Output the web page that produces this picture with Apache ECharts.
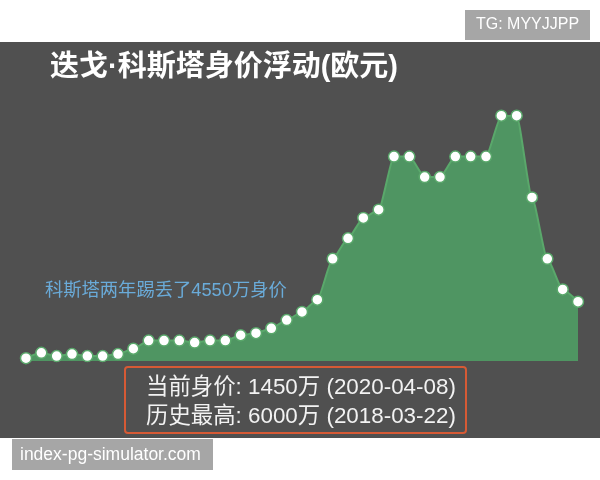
<!DOCTYPE html>
<html><head><meta charset="utf-8">
<script src="https://cdn.jsdelivr.net/npm/echarts@6/dist/echarts.min.js"></script>
<style>html,body{margin:0;padding:0;background:#fff}#c{width:600px;height:480px}</style>
</head><body><div id="c"></div>
<script>
var categories = ['1','2','3','4','5','6','7','8','9','10','11','12','13','14','15','16','17','18','19','20','21','22','23','24','25','26','27','28','29','30','31','32','33','34','35','36','37'];
var values = [70, 200, 120, 170, 120, 120, 170, 300, 500, 500, 500, 450, 500, 500, 630, 680, 800, 1000, 1200, 1500, 2500, 3000, 3500, 3700, 5000, 5000, 4500, 4500, 5000, 5000, 5000, 6000, 6000, 4000, 2500, 1750, 1450];
var titleText = '迭戈·科斯塔身价浮动(欧元)';
var noteText = '科斯塔两年踢丢了4550万身价';
var infoLines = ['当前身价: 1450万 (2020-04-08)', '历史最高: 6000万 (2018-03-22)'];
var tagText = 'TG: MYYJJPP';
var siteText = 'index-pg-simulator.com';

var chart = echarts.init(document.getElementById('c'));
var font = 'Arial, "Liberation Sans", "Noto Sans CJK SC", sans-serif';
chart.setOption({
  backgroundColor: '#ffffff',
  animation: false,
  title: {
    text: titleText, left: 45, top: 48,
    textStyle: {color: '#ffffff', fontSize: 29, fontWeight: 'bold', fontFamily: font}
  },
  grid: {left: 26, right: 22, top: 115.7, bottom: 119},
  xAxis: {type: 'category', data: categories, boundaryGap: false, show: false},
  yAxis: {type: 'value', min: 0, max: 6000, show: false},
  series: [{
    type: 'line', data: values, smooth: 0.2, smoothMonotone: 'x',
    showSymbol: true, showAllSymbol: true,
    symbol: 'circle', symbolSize: 11,
    itemStyle: {color: '#ffffff', borderColor: '#5aa86b', borderWidth: 1.5},
    lineStyle: {color: '#5aa86b', width: 2},
    areaStyle: {color: '#4f9562', opacity: 1},
    z: 5
  }],
  graphic: [
    {type: 'rect', z: -10, shape: {x: 0, y: 42, width: 600, height: 396}, style: {fill: '#505050'}},
    {type: 'rect', z: 10, shape: {x: 465, y: 10, width: 125, height: 30}, style: {fill: '#a6a6a6'}},
    {type: 'text', z: 11, x: 527.5, y: 25, style: {text: tagText, fill: '#ffffff', font: '16px ' + font, textAlign: 'center', textVerticalAlign: 'middle'}},
    {type: 'rect', z: 10, shape: {x: 12, y: 439, width: 201, height: 31}, style: {fill: '#a6a6a6'}},
    {type: 'text', z: 11, x: 20, y: 455, style: {text: siteText, fill: '#ffffff', font: '17.5px ' + font, textAlign: 'left', textVerticalAlign: 'middle'}},
    {type: 'text', z: 11, x: 45, y: 290.5, style: {text: noteText, fill: '#6aabd9', font: '18.3px ' + font, textAlign: 'left', textVerticalAlign: 'middle'}},
    {type: 'rect', z: 10, shape: {x: 125, y: 367, width: 341, height: 66, r: 3}, style: {fill: 'none', stroke: '#d65a35', lineWidth: 2}},
    {type: 'text', z: 11, x: 146, y: 388, style: {text: infoLines[0], fill: '#f2f2f2', font: '22.4px ' + font, textAlign: 'left', textVerticalAlign: 'middle'}},
    {type: 'text', z: 11, x: 146, y: 416.5, style: {text: infoLines[1], fill: '#f2f2f2', font: '22.4px ' + font, textAlign: 'left', textVerticalAlign: 'middle'}}
  ]
});
</script></body></html>
